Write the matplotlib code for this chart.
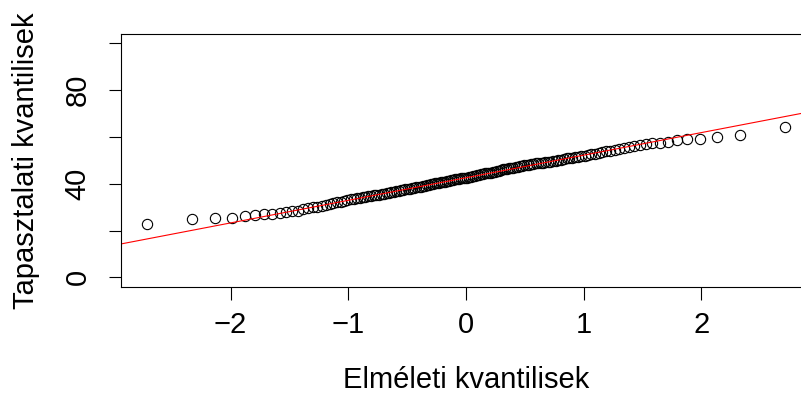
import numpy as np
import matplotlib
matplotlib.use("Agg")
from matplotlib import pyplot as plt
from statistics import NormalDist

# sorted sample values
sample = [
    22.8, 24.9, 25.3, 25.4, 26.3, 26.8, 27.1, 27.2, 27.7, 28.0,
    28.3, 28.5, 29.0, 29.5, 29.9, 30.2, 30.5, 30.8, 31.2, 31.6,
    32.0, 32.4, 32.8, 33.1, 33.4, 33.6, 33.8, 34.0, 34.2, 34.4,
    34.6, 34.8, 35.0, 35.1, 35.3, 35.5, 35.7, 36.0, 36.2, 36.4,
    36.6, 36.9, 37.1, 37.3, 37.5, 37.6, 37.8, 37.9, 38.1, 38.2,
    38.4, 38.6, 38.8, 39.0, 39.2, 39.4, 39.6, 39.8, 40.0, 40.2,
    40.3, 40.5, 40.6, 40.7, 40.9, 41.1, 41.3, 41.5, 41.7, 41.9,
    42.0, 42.2, 42.3, 42.4, 42.5, 42.6, 42.8, 43.0, 43.2, 43.5,
    43.7, 43.9, 44.1, 44.2, 44.4, 44.5, 44.6, 44.7, 44.9, 45.1,
    45.3, 45.6, 45.9, 46.1, 46.3, 46.4, 46.6, 46.7, 46.8, 47.0,
    47.2, 47.4, 47.6, 47.8, 48.0, 48.2, 48.4, 48.5, 48.7, 48.8,
    48.9, 49.0, 49.1, 49.3, 49.5, 49.7, 49.9, 50.1, 50.3, 50.5,
    50.8, 51.0, 51.2, 51.4, 51.6, 51.8, 52.0, 52.3, 52.6, 52.9,
    53.2, 53.5, 53.8, 54.2, 54.6, 55.0, 55.4, 55.8, 56.2, 56.6,
    56.9, 57.3, 57.4, 58.0, 58.7, 59.1, 59.3, 60.0, 60.7, 64.3,
]
y_ticks = [0, 20, 40, 60, 80, 100]
y_labels = ["0", "", "40", "", "80", ""]
x_ticks = [-2, -1, 0, 1, 2]

plt.rcParams['font.family'] = ['Liberation Sans', 'DejaVu Sans']

y = np.array(sample)
n = len(y)
# theoretical quantiles like R's qqnorm (ppoints)
p = (np.arange(1, n + 1) - 0.5) / n
x = np.array([NormalDist().inv_cdf(v) for v in p])

# qqline through the quartiles
q1, q3 = np.quantile(y, [0.25, 0.75])
z1, z3 = NormalDist().inv_cdf(0.25), NormalDist().inv_cdf(0.75)
slope = (q3 - q1) / (z3 - z1)
intercept = q1 - slope * z1

fig = plt.figure(figsize=(8.01, 3.94), dpi=100)
ax = fig.add_axes([121 / 801, 107.3 / 394, 690 / 801, 252.7 / 394])

ax.plot(x, y, linestyle="none", marker="o", markersize=7.4,
        markerfacecolor="none", markeredgecolor="black", markeredgewidth=0.8)
ax.axline((0, intercept), slope=slope, color="red", linewidth=0.8)

xr = x.max() - x.min()
ax.set_xlim(x.min() - 0.04 * xr, x.max() + 0.04 * xr)
ax.set_ylim(-4, 104)

ax.set_xticks(x_ticks)
ax.set_xticklabels([str(t).replace("-", "\u2212") for t in x_ticks])
ax.set_yticks(y_ticks)
ax.set_yticklabels(y_labels)
ax.tick_params(axis="both", labelsize=21, length=9, width=0.8)
ax.tick_params(axis="x", pad=8.5)
ax.tick_params(axis="y", pad=12)
for lab in ax.get_yticklabels():
    lab.set_rotation(90)
    lab.set_va("center")

for s in ax.spines.values():
    s.set_linewidth(0.8)

ax.set_xlabel("Elméleti kvantilisek", fontsize=21)
ax.set_ylabel("Tapasztalati kvantilisek", fontsize=21)
ax.xaxis.set_label_coords(0.5, -0.368)
ax.yaxis.set_label_coords(-0.138, 0.5)
ax.xaxis.label.set_va("center")
ax.yaxis.label.set_va("center")

fig.savefig("out.png", dpi=100)
